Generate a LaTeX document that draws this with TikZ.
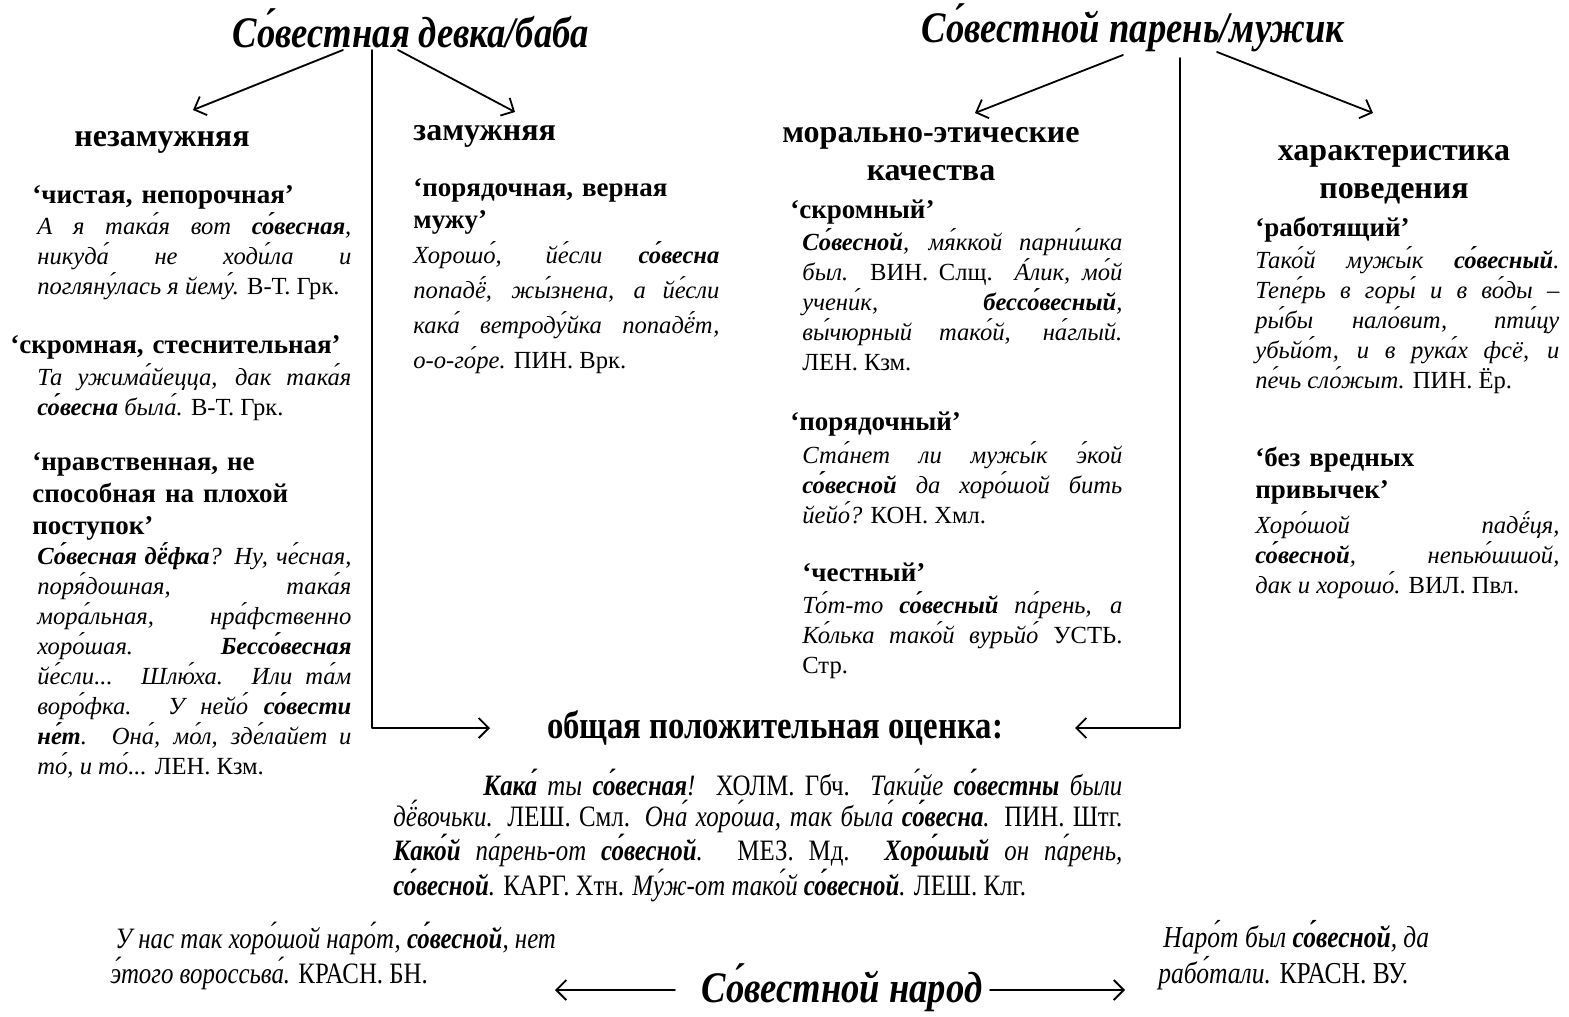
\documentclass[tikz,border=0pt]{standalone}
\usepackage{fontspec}
\setmainfont{Liberation Serif}
\newfontfamily\narrowfont[FakeStretch=0.84]{Liberation Serif}
\usetikzlibrary{arrows.meta}

\newcommand{\srcref}[1]{\textup{#1}}

\tikzset{
  titletext/.style={font=\narrowfont\bfseries\itshape\fontsize{21.8}{25}\selectfont, inner sep=0},
  grouphead/.style={font=\bfseries\fontsize{16}{19}\selectfont, inner sep=0, align=center},
  sensehead/.style={font=\bfseries\fontsize{13.5}{16}\selectfont, inner sep=0, align=left, text width=#1},
  sensehead/.default=170pt,
  sampletext/.style={font=\itshape\fontsize{12.3}{15}\selectfont, inner sep=0, align=justify, text width=#1,
    execute at begin node={\tolerance=9999\hyphenpenalty=10000\exhyphenpenalty=10000\relax}},
  sampletext/.default=157pt,
  narrowtext/.style={font=\narrowfont\itshape\fontsize{14.8}{15.5}\selectfont, inner sep=0},
  link/.style={line width=0.9pt},
}

\begin{document}
\begin{tikzpicture}[x=0.5pt,y=-0.5pt,>={Straight Barb[length=5pt,width=10pt]},line cap=round,line join=round]
        \useasboundingbox (0,0) rectangle (1569,1017);
        % titles
        \node[titletext] (fem) at (411,28) {Со́вестная девка/баба};
        \node[titletext] (masc) at (1133,28) {Со́вестной парень/мужик};
        % left column
        \node[grouphead,anchor=base] (unmar) at (162,146) {незамужняя};
        \node[sensehead,anchor=base west] (pure) at (32,203) {‘чистая, непорочная’};
        \node[sampletext,anchor=base west] (pureq) at (37,234) {А я така́я вот \textbf{со́весная}, \linebreak никуда́ не ходи́ла и \linebreak погляну́лась я йему́. \srcref{В-Т.~Грк.}};
        \node[sensehead=180pt,anchor=base west] (shy) at (10,353) {‘скромная, стеснительная’};
        \node[sampletext,anchor=base west] (shyq) at (37,385) {Та ужима́йецца, дак така́я \linebreak \textbf{со́весна} была́. \srcref{В-Т. Грк.}};
        \node[sensehead,anchor=base west] (moralf) at (32,470) {‘нравственная, не\\способная на плохой\\поступок’};
        \node[sampletext,anchor=base west] (moralfq) at (37,564) {\textbf{Со́весная дё́фка}? Ну, че́сная, \linebreak поря́дошная, така́я \linebreak мора́льная, нра́фственно \linebreak хоро́шая. \textbf{Бессо́весная} \linebreak йе́сли... Шлю́ха. Или та́м \linebreak воро́фка. У нейо́ \textbf{со́вести} \linebreak \textbf{не́т}. Она́, мо́л, зде́лайет и \linebreak то́, и то́... \srcref{ЛЕН. Кзм.}};
        % second column
        \node[grouphead,anchor=base west] (mar) at (413,140) {замужняя};
        \node[sensehead,anchor=base west] (loyal) at (413,196) {‘порядочная, верная\\мужу’};
        \node[sampletext=153pt,anchor=base west,font=\itshape\fontsize{12.3}{17.5}\selectfont] (loyalq) at (413,263) {Хорошо́, йе́сли \textbf{со́весна} \linebreak попадё́, жы́знена, а йе́сли \linebreak кака́ ветроду́йка попадё́т, \linebreak о-о-го́ре. \srcref{ПИН. Врк.}};
        % third column
        \node[grouphead,anchor=base] (ethic) at (931,180) {морально-этические\\качества};
        \node[sensehead,anchor=base west] (modest) at (790,218) {‘скромный’};
        \node[sampletext=160pt,anchor=base west] (modestq) at (802,250) {\textbf{Со́весной}, мя́ккой парни́шка \linebreak был. \srcref{ВИН. Слщ.} А́лик, мо́й \linebreak учени́к, \textbf{бессо́весный}, \linebreak вы́чюрный тако́й, на́глый. \linebreak \srcref{ЛЕН. Кзм.}};
        \node[sensehead,anchor=base west] (decent) at (790,430) {‘порядочный’};
        \node[sampletext=160pt,anchor=base west] (decentq) at (802,463) {Ста́нет ли мужы́к э́кой \linebreak \textbf{со́весной} да хоро́шой бить \linebreak йейо́? \srcref{КОН. Хмл.}};
        \node[sensehead,anchor=base west] (honest) at (802,581) {‘честный’};
        \node[sampletext=160pt,anchor=base west] (honestq) at (802,613) {То́т-то \textbf{со́весный} па́рень, а \linebreak Ко́лька тако́й вурьйо́ \srcref{УСТЬ.} \linebreak \srcref{Стр.}};
        % fourth column
        \node[grouphead,anchor=base] (behav) at (1394,198) {характеристика\\поведения};
        \node[sensehead,anchor=base west] (work) at (1255,236) {‘работящий’};
        \node[sampletext=152pt,anchor=base west] (workq) at (1255,268) {Тако́й мужы́к \textbf{со́весный}. \linebreak Тепе́рь в горы́ и в во́ды – \linebreak ры́бы нало́вит, пти́цу \linebreak убьйо́т, и в рука́х фсё, и \linebreak пе́чь сло́жыт. \srcref{ПИН. Ёр.}};
        \node[sensehead=140pt,anchor=base west] (sober) at (1255,466) {‘без вредных\\привычек’};
        \node[sampletext=152pt,anchor=base west] (soberq) at (1255,533) {Хоро́шой падё́ця, \linebreak \textbf{со́весной}, непью́шшой, \linebreak дак и хорошо́. \srcref{ВИЛ. Пвл.}};
        % common part
        \node[font=\narrowfont\bfseries\fontsize{19.5}{22}\selectfont,inner sep=0,anchor=base] (common) at (775,738) {общая положительная оценка:};
        \node[narrowtext,anchor=base west,align=justify,text width=364.5pt,
              execute at begin node={\tolerance=9999\relax}] (commonq) at (393,795) {\hspace*{45pt}\textbf{Кака́} ты \textbf{со́весная}! \srcref{ХОЛМ. Гбч.} Таки́йе \textbf{со́вестны} были \linebreak дё́вочьки. \srcref{ЛЕШ. Смл.} Она́ хоро́ша, так была́ \textbf{со́весна}. \srcref{ПИН. Штг.} \linebreak \textbf{Како́й} па́рень-от \textbf{со́весной}. \srcref{МЕЗ. Мд.} \textbf{Хоро́шый} он па́рень, \linebreak \textbf{со́весной}. \srcref{КАРГ. Хтн.} Му́ж-от тако́й \textbf{со́весной}. \srcref{ЛЕШ. Клг.}};
        % people
        \node[titletext,anchor=base] (folk) at (842,1002) {Со́вестной народ};
        \node[narrowtext,anchor=base west,align=left] (folkl) at (110,983) {\,У нас так хоро́шой наро́т, \textbf{со́весной}, нет\\э́того вороссьва́. \srcref{КРАСН. БН.}};
        \node[narrowtext,anchor=base west,align=left,font=\narrowfont\itshape\fontsize{15.2}{15.5}\selectfont] (folkr) at (1158,983) {\,Наро́т был \textbf{со́весной}, да\\рабо́тали. \srcref{КРАСН. ВУ.}};
        % arrow ends
        \coordinate (f1) at (343,50);
        \coordinate (f2) at (398,50);
        \coordinate (f3) at (372,50);
        \coordinate (f4) at (372,728);
        \coordinate (m1) at (1123,55);
        \coordinate (m2) at (1217,52);
        \coordinate (m3) at (1180,58);
        \coordinate (m4) at (1180,728);
        \coordinate (e1) at (193,110);
        \coordinate (e2) at (515,112);
        \coordinate (e3) at (975,113);
        \coordinate (e4) at (1373,113);
        \coordinate (c1) at (490,728);
        \coordinate (c2) at (1075,728);
        \coordinate (p1) at (675,990);
        \coordinate (p2) at (555,990);
        \coordinate (p3) at (990,990);
        \coordinate (p4) at (1125,990);
        \draw[link,->] (f1) -- (e1);
        \draw[link,->] (f2) -- (e2);
        \draw[link,->] (f3) -- (f4) -- (c1);
        \draw[link,->] (m1) -- (e3);
        \draw[link,->] (m2) -- (e4);
        \draw[link,->] (m3) -- (m4) -- (c2);
        \draw[link,->] (p1) -- (p2);
        \draw[link,->] (p3) -- (p4);
\end{tikzpicture}
\end{document}
